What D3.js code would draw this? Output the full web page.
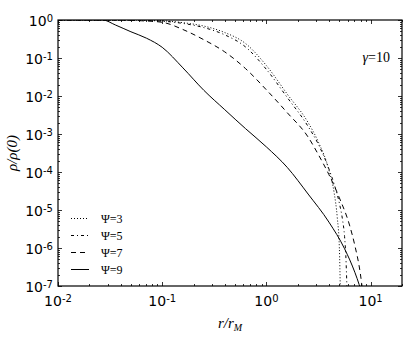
<!DOCTYPE html>
<html>
<head>
<meta charset="utf-8">
<script src="https://cdn.jsdelivr.net/npm/d3@7"></script>
<style>
  body { margin: 0; background: #fff; }
  text { fill: #000; }
</style>
</head>
<body>
<div id="chart"></div>
<script>
// Density profiles rho/rho(0) against r/r_M.
var psi3R   = [0.01, 0.063, 0.1, 0.158, 0.251, 0.398, 0.631, 1, 1.585, 2.512, 3.162, 3.981, 4.467, 4.786, 5.012, 5.129];
var psi3Rho = [1, 1, 0.955, 0.851, 0.692, 0.468, 0.240, 0.0631, 0.0112, 0.0020, 6.03e-4, 1.12e-4, 2.82e-5, 6.31e-6, 1.0e-6, 6.3e-8];

var psi5R   = [0.01, 0.063, 0.1, 0.158, 0.251, 0.398, 0.631, 1, 1.585, 2.512, 3.162, 3.981, 4.467, 5.012, 5.370, 5.623, 5.821, 5.957];
var psi5Rho = [1, 0.977, 0.933, 0.813, 0.631, 0.407, 0.195, 0.0501, 0.00912, 0.00158, 5.25e-4, 1.20e-4, 4.79e-5, 1.51e-5, 5.62e-6, 2.0e-6, 3.98e-7, 5.0e-8];

var psi7R   = [0.01, 0.0398, 0.063, 0.1, 0.158, 0.251, 0.398, 0.631, 1, 1.585, 2.512, 3.162, 3.981, 5.012, 6.310, 7.079, 7.943, 8.511];
var psi7Rho = [1, 0.989, 0.955, 0.871, 0.562, 0.302, 0.145, 0.0525, 0.0145, 0.00363, 8.32e-4, 2.82e-4, 8.51e-5, 2.09e-5, 3.80e-6, 1.12e-6, 2.24e-7, 5.0e-8];

var psi9R   = [0.01, 0.0269, 0.0355, 0.0501, 0.0708, 0.1, 0.158, 0.251, 0.398, 0.631, 1, 1.585, 2.512, 3.981, 5.623, 7.079, 8.511];
var psi9Rho = [1, 1, 0.741, 0.490, 0.331, 0.191, 0.0550, 0.0141, 0.00437, 0.00138, 4.57e-4, 1.32e-4, 2.63e-5, 4.79e-6, 9.55e-7, 2.24e-7, 5.0e-8];

var seriesNames  = ["\u03A8=3", "\u03A8=5", "\u03A8=7", "\u03A8=9"];
var seriesDashes = ["1,2", "3,3,1,3", "5,4", null];
var xTickExps = [-2, -1, 0, 1];
var yTickExps = [0, -1, -2, -3, -4, -5, -6, -7];

var width = 416, height = 343;
var margin = {top: 20, right: 14, bottom: 57, left: 58};
var innerW = width - margin.left - margin.right;
var innerH = height - margin.top - margin.bottom;

var series = [
    {r: psi3R, rho: psi3Rho},
    {r: psi5R, rho: psi5Rho},
    {r: psi7R, rho: psi7Rho},
    {r: psi9R, rho: psi9Rho}
].map(function(s, i) {
    return {
        name: seriesNames[i],
        dash: seriesDashes[i],
        points: s.r.map(function(v, j) { return [v, s.rho[j]]; })
    };
});

var x = d3.scaleLog().domain([0.01, 20]).range([0, innerW]);
var y = d3.scaleLog().domain([1e-7, 1]).range([innerH, 0]);

var svg = d3.select("#chart").append("svg")
    .attr("width", width)
    .attr("height", height);

var g = svg.append("g")
    .attr("transform", "translate(" + margin.left + "," + margin.top + ")");

g.append("clipPath").attr("id", "clip")
    .append("rect").attr("width", innerW).attr("height", innerH);

// curves
var line = d3.line()
    .x(function(d) { return x(d[0]); })
    .y(function(d) { return y(d[1]); })
    .curve(d3.curveMonotoneX);

g.append("g").attr("clip-path", "url(#clip)")
    .selectAll("path")
    .data(series)
    .enter().append("path")
    .attr("d", function(d) { return line(d.points); })
    .attr("fill", "none")
    .attr("stroke", "#000")
    .attr("stroke-width", 1)
    .attr("stroke-dasharray", function(d) { return d.dash; });

// minor + major ticks, drawn inward on all four sides
var xMinor = [], yMinor = [];
[-2, -1, 0, 1].forEach(function(e) {
    for (var k = 2; k <= 9; k++) {
        var v = k * Math.pow(10, e);
        if (v <= 20) xMinor.push(v);
    }
});
[-7, -6, -5, -4, -3, -2, -1].forEach(function(e) {
    for (var k = 2; k <= 9; k++) yMinor.push(k * Math.pow(10, e));
});
var xMajor = xTickExps.map(function(e) { return Math.pow(10, e); });
var yMajor = yTickExps.map(function(e) { return Math.pow(10, e); });

var ticks = g.append("g").attr("stroke", "#000").attr("stroke-width", 0.8);
function xTick(v, len) {
    var px = Math.round(x(v)) + 0.5;
    ticks.append("line").attr("x1", px).attr("x2", px).attr("y1", innerH).attr("y2", innerH - len);
    ticks.append("line").attr("x1", px).attr("x2", px).attr("y1", 0).attr("y2", len);
}
function yTick(v, len) {
    var py = Math.round(y(v)) + 0.5;
    ticks.append("line").attr("y1", py).attr("y2", py).attr("x1", 0).attr("x2", len);
    ticks.append("line").attr("y1", py).attr("y2", py).attr("x1", innerW).attr("x2", innerW - len);
}
xMinor.forEach(function(v) { xTick(v, 2); });
xMajor.forEach(function(v) { xTick(v, 4); });
yMinor.forEach(function(v) { yTick(v, 2); });
yMajor.forEach(function(v) { yTick(v, 4); });

// frame
g.append("rect")
    .attr("width", innerW).attr("height", innerH)
    .attr("fill", "none").attr("stroke", "#000").attr("stroke-width", 1.2);

// tick labels
var tickFont = "DejaVu Sans, sans-serif";
function powLabel(sel, e) {
    sel.append("tspan").text("10");
    sel.append("tspan").attr("dy", "-0.45em").attr("font-size", "10px").text(e);
}
g.selectAll(".xl").data(xTickExps).enter().append("text")
    .attr("class", "xl")
    .attr("x", function(e) { return x(Math.pow(10, e)); })
    .attr("y", innerH + 20)
    .attr("text-anchor", "middle")
    .attr("font-family", tickFont).attr("font-size", "14px")
    .each(function(e) { powLabel(d3.select(this), e); });

g.selectAll(".yl").data(yTickExps).enter().append("text")
    .attr("class", "yl")
    .attr("x", -5)
    .attr("y", function(e) { return y(Math.pow(10, e)) + 6; })
    .attr("text-anchor", "end")
    .attr("font-family", tickFont).attr("font-size", "14px")
    .each(function(e) { powLabel(d3.select(this), e); });

// axis titles
var serif = "Liberation Serif, DejaVu Serif, serif";
var xt = g.append("text")
    .attr("x", innerW / 2).attr("y", innerH + 42)
    .attr("text-anchor", "middle")
    .attr("font-family", serif).attr("font-size", "15px").attr("font-style", "italic");
xt.append("tspan").text("r/r");
xt.append("tspan").attr("dy", "3").attr("font-size", "10px").text("M");

g.append("text")
    .attr("transform", "translate(-41," + innerH / 2 + ") rotate(-90)")
    .attr("text-anchor", "middle")
    .attr("font-family", serif).attr("font-size", "15px").attr("font-style", "italic")
    .text("\u03C1/\u03C1(0)");

// annotation
g.append("text")
    .attr("x", innerW - 12).attr("y", 42)
    .attr("text-anchor", "end")
    .attr("font-family", serif).attr("font-size", "14px")
    .html("<tspan font-style='italic'>\u03B3</tspan>=10");

// legend
var legend = g.append("g").attr("transform", "translate(13," + (innerH - 68) + ")");
var rows = legend.selectAll("g").data(series).enter().append("g")
    .attr("transform", function(d, i) { return "translate(0," + (i * 17) + ")"; });
rows.append("line")
    .attr("x1", 0).attr("x2", 18).attr("y1", 0.5).attr("y2", 0.5)
    .attr("stroke", "#000").attr("stroke-width", 1)
    .attr("stroke-dasharray", function(d) { return d.dash; });
rows.append("text")
    .attr("x", 30).attr("y", 4.5)
    .attr("font-family", serif).attr("font-size", "12px")
    .text(function(d) { return d.name; });
</script>
</body>
</html>
